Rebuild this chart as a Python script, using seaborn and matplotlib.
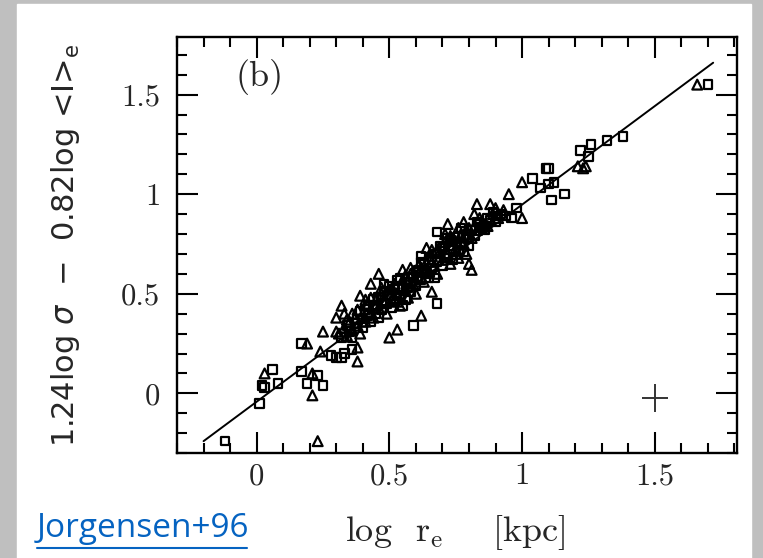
import matplotlib
matplotlib.use("Agg")
import matplotlib.pyplot as plt
import seaborn as sns
from matplotlib.patches import Rectangle
from matplotlib.lines import Line2D
from matplotlib.ticker import MultipleLocator

# open squares
sq_x = [-0.12, 0.01, 0.02, 0.03, 0.06, 0.08, 0.17, 0.17, 0.19, 0.23, 0.25, 0.28, 0.30, 0.32, 0.33,
        0.59, 0.62, 0.68, 0.68, 0.96, 0.98, 1.04, 1.07, 1.09, 1.10, 1.10, 1.12, 1.11, 1.16, 1.22,
        1.25, 1.26, 1.32, 1.38, 1.70,
        0.32, 0.34, 0.36, 0.38, 0.40, 0.41, 0.43, 0.44, 0.45, 0.46, 0.47, 0.48, 0.49, 0.50, 0.51,
        0.52, 0.53, 0.54, 0.55, 0.56, 0.57, 0.58, 0.59, 0.60, 0.61, 0.62, 0.63, 0.64, 0.65, 0.66,
        0.67, 0.68, 0.69, 0.70, 0.71, 0.72, 0.73, 0.74, 0.75, 0.76, 0.77, 0.78, 0.79, 0.80, 0.81,
        0.82, 0.84, 0.86, 0.88, 0.90, 0.92, 0.94, 0.36, 0.46, 0.55,
        0.35, 0.37, 0.39, 0.42, 0.44, 0.47, 0.50, 0.52, 0.54, 0.57, 0.60, 0.62, 0.65, 0.67, 0.70,
        0.72, 0.74, 0.76, 0.78, 0.80, 0.83, 0.85, 0.87, 0.89, 0.91, 0.42, 0.48, 0.53, 0.58, 0.63,
        0.68, 0.73]
sq_y = [-0.24, -0.05, 0.04, 0.03, 0.12, 0.05, 0.25, 0.11, 0.05, 0.09, 0.04, 0.19, 0.18, 0.18, 0.20,
        0.34, 0.69, 0.81, 0.45, 0.88, 0.93, 1.08, 1.03, 1.13, 1.13, 1.05, 1.06, 0.97, 1.00, 1.22,
        1.19, 1.25, 1.27, 1.29, 1.55,
        0.28, 0.34, 0.28, 0.37, 0.33, 0.42, 0.36, 0.44, 0.40, 0.48, 0.42, 0.51, 0.45, 0.49, 0.43,
        0.52, 0.57, 0.49, 0.53, 0.47, 0.56, 0.51, 0.58, 0.54, 0.62, 0.57, 0.65, 0.60, 0.67, 0.63,
        0.58, 0.66, 0.74, 0.64, 0.70, 0.78, 0.72, 0.67, 0.76, 0.72, 0.83, 0.71, 0.78, 0.74, 0.82,
        0.79, 0.85, 0.82, 0.87, 0.86, 0.90, 0.89, 0.22, 0.38, 0.44,
        0.31, 0.35, 0.41, 0.39, 0.47, 0.45, 0.54, 0.46, 0.58, 0.53, 0.61, 0.66, 0.58, 0.70, 0.73,
        0.68, 0.74, 0.79, 0.79, 0.78, 0.86, 0.83, 0.88, 0.91, 0.89, 0.44, 0.55, 0.53, 0.56, 0.62,
        0.70, 0.77]

# open triangles
tri_x = [0.03, 0.19, 0.21, 0.21, 0.23, 0.24, 0.25, 0.30, 0.30, 0.32, 0.38, 0.38, 0.39, 0.43, 0.46,
         0.50, 0.53, 0.58, 0.62, 0.66, 0.66, 0.72, 0.80, 0.81, 0.83, 0.88, 0.90, 0.95, 1.00, 1.00,
         1.21, 1.23, 1.24, 1.66,
         0.31, 0.33, 0.34, 0.35, 0.36, 0.37, 0.38, 0.39, 0.40, 0.41, 0.42, 0.43, 0.44, 0.45, 0.46,
         0.47, 0.48, 0.49, 0.50, 0.51, 0.52, 0.53, 0.54, 0.55, 0.56, 0.57, 0.58, 0.59, 0.60, 0.61,
         0.62, 0.63, 0.64, 0.65, 0.66, 0.67, 0.68, 0.69, 0.70, 0.71, 0.72, 0.73, 0.74, 0.75, 0.76,
         0.77, 0.78, 0.79, 0.80, 0.81, 0.83, 0.85, 0.87, 0.89, 0.91, 0.93, 0.78, 0.82,
         0.34, 0.36, 0.38, 0.40, 0.43, 0.45, 0.48, 0.51, 0.53, 0.56, 0.58, 0.61, 0.63, 0.66, 0.68,
         0.70, 0.73, 0.75, 0.77, 0.79, 0.82, 0.84, 0.86, 0.33, 0.41, 0.47, 0.55, 0.64, 0.71, 0.76]
tri_y = [0.10, 0.25, -0.01, 0.10, -0.24, 0.21, 0.31, 0.31, 0.38, 0.44, 0.16, 0.23, 0.49, 0.55, 0.60,
         0.28, 0.32, 0.63, 0.39, 0.51, 0.72, 0.85, 0.65, 0.62, 0.95, 0.95, 0.93, 1.00, 1.06, 0.88,
         1.14, 1.13, 1.14, 1.55,
         0.30, 0.33, 0.29, 0.36, 0.32, 0.38, 0.34, 0.30, 0.40, 0.36, 0.45, 0.41, 0.38, 0.47, 0.43,
         0.50, 0.46, 0.40, 0.52, 0.47, 0.55, 0.50, 0.44, 0.57, 0.52, 0.48, 0.60, 0.55, 0.50, 0.58,
         0.63, 0.56, 0.66, 0.61, 0.69, 0.64, 0.60, 0.71, 0.67, 0.76, 0.70, 0.65, 0.78, 0.73, 0.68,
         0.80, 0.75, 0.70, 0.83, 0.78, 0.82, 0.86, 0.84, 0.90, 0.88, 0.92, 0.86, 0.90,
         0.37, 0.40, 0.42, 0.36, 0.48, 0.44, 0.49, 0.53, 0.46, 0.59, 0.54, 0.64, 0.61, 0.66, 0.72,
         0.74, 0.79, 0.70, 0.76, 0.82, 0.84, 0.88, 0.85, 0.40, 0.47, 0.53, 0.62, 0.73, 0.80, 0.83]

# fitted relation
fit_x = [-0.20, 1.72]
fit_y = [-0.24, 1.66]

# typical error
err_x, err_y = [1.5], [-0.025]
err_dx, err_dy = [0.05], [0.07]

sns.set_style("ticks")
plt.rcParams["mathtext.fontset"] = "cm"
plt.rcParams["axes.unicode_minus"] = False

fig = plt.figure(figsize=(7.63, 5.58), dpi=100)
fig.patch.set_facecolor("#bfbfbf")
fig.patches.append(Rectangle((17 / 763, 0), 734 / 763, 554 / 558,
                             transform=fig.transFigure, color="white", zorder=-5))

ax = fig.add_axes([0.232, 0.188, 0.734, 0.746])
ax.set_facecolor("none")

sns.lineplot(x=fit_x, y=fit_y, ax=ax, color="black", lw=1.4)
sns.scatterplot(x=sq_x, y=sq_y, ax=ax, marker="s", s=38, facecolor="none",
                edgecolor="black", linewidth=1.6)
sns.scatterplot(x=tri_x, y=tri_y, ax=ax, marker="^", s=50, facecolor="none",
                edgecolor="black", linewidth=1.6)
ax.errorbar(err_x, err_y, xerr=err_dx, yerr=err_dy, fmt="none", ecolor="#333333",
            elinewidth=1.4, capsize=0)

ax.set_xlim(-0.3, 1.81)
ax.set_ylim(-0.3, 1.79)
ax.xaxis.set_major_locator(MultipleLocator(0.5))
ax.xaxis.set_minor_locator(MultipleLocator(0.1))
ax.yaxis.set_major_locator(MultipleLocator(0.5))
ax.yaxis.set_minor_locator(MultipleLocator(0.1))
ax.set_xticks([0, 0.5, 1, 1.5], ["0", "0.5", "1", "1.5"])
ax.set_yticks([0, 0.5, 1, 1.5], ["0", "0.5", "1", "1.5"])
ax.tick_params(which="both", direction="in", top=True, right=True, width=1.5, color="black")
ax.tick_params(which="major", length=15)
ax.tick_params(which="minor", length=7)
ax.tick_params(axis="x", which="major", pad=7)
ax.tick_params(axis="y", which="major", pad=12)
for lab in ax.get_xticklabels() + ax.get_yticklabels():
    lab.set_family("cmr10")
    lab.set_fontsize(22)
for sp in ax.spines.values():
    sp.set_linewidth(1.7)
    sp.set_color("black")
ax.grid(False)

ax.text(0.01, 1.59, "(b)", family="cmr10", fontsize=26, ha="center", va="center")

ax.set_xlabel(r"log  r$_\mathrm{e}$    [kpc]", family="cmr10", fontsize=26)
ax.xaxis.set_label_coords(0.497, -0.145)
ax.xaxis.label.set_va("top")

ylab = ax.set_ylabel(r"1.24log $\sigma$  $-$  0.82log <I>$_\mathrm{e}$", family="DejaVu Sans",
                     fontsize=22)
ylab.set_math_fontfamily("dejavusans")
ax.yaxis.set_label_coords(-0.17, 0.5)

fig.text(37 / 763, 0.038, "Jorgensen+96", family="Open Sans", fontsize=24,
         color="#0563C1", ha="left", va="baseline")
fig.lines.append(Line2D([37 / 763, 247 / 763], [0.018, 0.018], transform=fig.transFigure,
                        color="#0563C1", lw=1.5))

fig.savefig("out.png", dpi=100, facecolor=fig.get_facecolor())
